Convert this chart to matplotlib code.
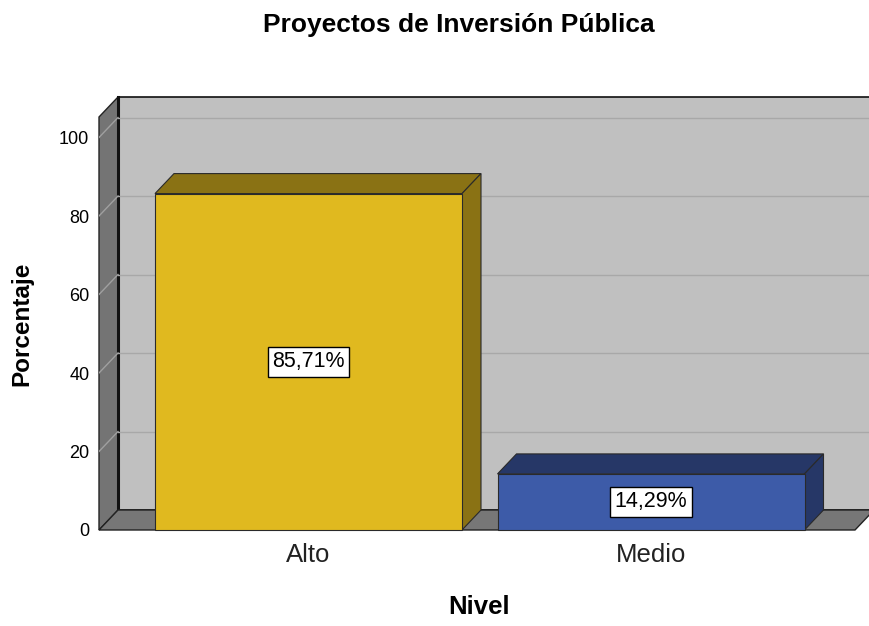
import matplotlib.pyplot as plt
from matplotlib.patches import Polygon

# data
categories = ['Alto', 'Medio']
values = [85.71, 14.29]
value_labels = ['85,71%', '14,29%']
front_colors = ['#E0B91F', '#3D5BA8']
dark_colors = ['#8A7214', '#263767']
yticks = [0, 20, 40, 60, 80, 100]

plt.rcParams['font.family'] = ['Liberation Sans', 'DejaVu Sans']

fig = plt.figure(figsize=(8.69, 6.26), dpi=100)
# axes = front plane of the 3D box
ax = fig.add_axes([99 / 869, (626 - 530) / 626, 770 / 869, 433 / 626])

px_x = 342.5    # pixels per category unit
px_y = 3.925    # pixels per percent
xl = -209.5 / px_x
xr = xl + 770 / px_x
ytop = 433 / px_y
ddx = 19 / px_x  # depth offset
ddy = 20 / px_y
floor_r = xl + 756 / px_x
width = 307 / px_x

ax.set_xlim(xl, xr)
ax.set_ylim(0, ytop)
for s in ax.spines.values():
    s.set_visible(False)
ax.patch.set_visible(False)

# back wall
ax.add_patch(Polygon([(xl + ddx, ddy), (xr + 1, ddy), (xr + 1, ytop), (xl + ddx, ytop)],
                     closed=True, facecolor='#C0C0C0', edgecolor='#111111', lw=1.2,
                     clip_on=False, zorder=1))
# side wall
ax.add_patch(Polygon([(xl, 0), (xl + ddx, ddy), (xl + ddx, ytop), (xl, ytop - ddy)],
                     closed=True, facecolor='#747474', edgecolor='#222222', lw=1,
                     clip_on=False, zorder=1))
ax.plot([xl + ddx, xl + ddx], [ddy, ytop], color='#111111', lw=2.2, zorder=2, clip_on=False)

# gridlines
for t in yticks[1:]:
    ax.plot([xl + ddx, xr], [t + ddy, t + ddy], color='#A8A8A8', lw=1, zorder=2)
    ax.plot([xl, xl + ddx], [t, t + ddy], color='#A0A0A0', lw=1, zorder=2)

# floor
ax.add_patch(Polygon([(xl, 0), (floor_r, 0), (floor_r + ddx, ddy), (xl + ddx, ddy)],
                     closed=True, facecolor='#777777', edgecolor='#222222', lw=1,
                     clip_on=False, zorder=3))

# bars
x = list(range(len(categories)))
ax.bar(x, values, width=width, color=front_colors, edgecolor='#2a2a2a', lw=0.8,
       zorder=5, clip_on=False)
for xi, v, dc, lab in zip(x, values, dark_colors, value_labels):
    l, r = xi - width / 2, xi + width / 2
    ax.add_patch(Polygon([(l, v), (r, v), (r + ddx, v + ddy), (l + ddx, v + ddy)],
                         closed=True, facecolor=dc, edgecolor='#2a2a2a', lw=0.8,
                         zorder=4, clip_on=False))
    ax.add_patch(Polygon([(r, 0), (r + ddx, ddy), (r + ddx, v + ddy), (r, v)],
                         closed=True, facecolor=dc, edgecolor='#2a2a2a', lw=0.8,
                         zorder=4, clip_on=False))
    ax.text(xi, v / 2, lab, ha='center', va='center', fontsize=15.5, zorder=6,
            bbox=dict(boxstyle='square,pad=0.22', facecolor='white',
                      edgecolor='black', lw=1))

ax.set_yticks(yticks)
ax.set_yticklabels([str(t) for t in yticks], fontsize=13)
ax.tick_params(axis='y', length=0, pad=7)
ax.set_xticks(x)
ax.set_xticklabels(categories, fontsize=18.5, color='#222222')
ax.tick_params(axis='x', length=0, pad=9)

ax.set_xlabel('Nivel', fontsize=18.5, fontweight='bold')
ax.xaxis.set_label_coords((479 - 99) / 770, (530 - 607) / 433)
ax.xaxis.label.set_va('center')
ax.set_ylabel('Porcentaje', fontsize=17.5, fontweight='bold')
ax.yaxis.set_label_coords((22 - 99) / 770, (530 - 324) / 433)
ax.yaxis.label.set_va('center')

fig.text(459 / 869, 1 - 25 / 626, 'Proyectos de Inversión Pública', ha='center',
         va='center', fontsize=19, fontweight='bold')

fig.savefig('out.png', dpi=100)
